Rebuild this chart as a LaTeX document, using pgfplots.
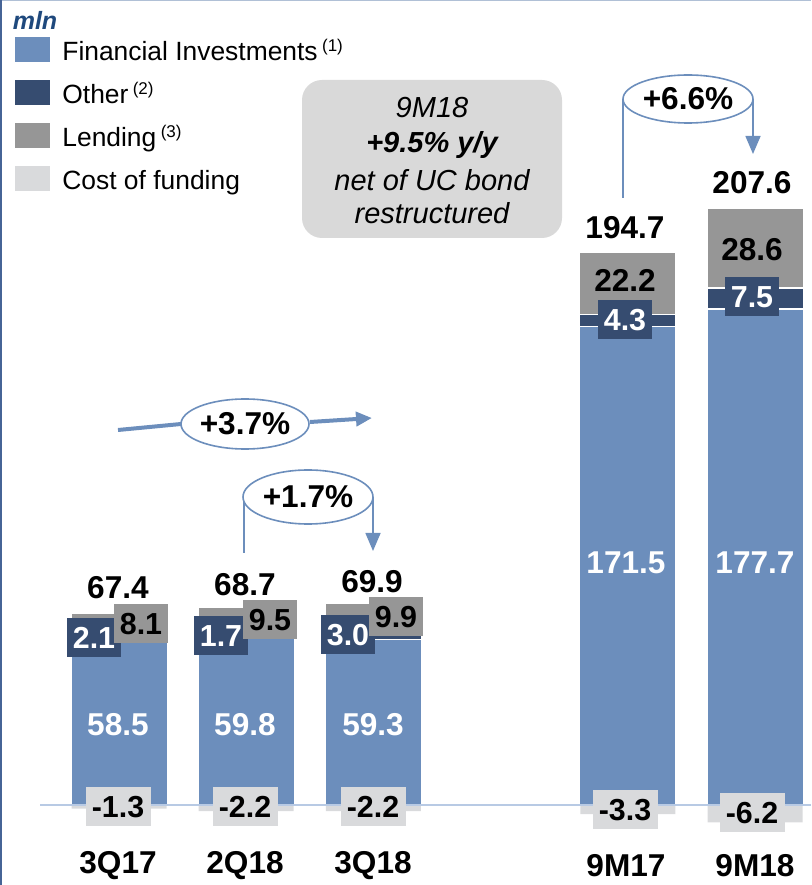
\documentclass[border=0pt]{standalone}
\usepackage{pgfplots}
\pgfplotsset{compat=1.18}
\usepackage{pgfplotstable}
\usepackage{fontspec}
\setmainfont{Liberation Sans}
\usetikzlibrary{arrows.meta}

\definecolor{finblue}{RGB}{108,142,188}
\definecolor{othnavy}{RGB}{54,76,112}
\definecolor{lendgray}{RGB}{150,150,150}
\definecolor{costgray}{RGB}{217,218,220}
\definecolor{zeroline}{RGB}{184,202,228}
\definecolor{mlnblue}{RGB}{31,73,125}
\definecolor{boxgray}{RGB}{217,217,217}

% values in mln
\pgfplotstableread{
x  fin    oth  lend  cost
0  58.5   2.1  8.1   -1.3
1  59.8   1.7  9.5   -2.2
2  59.3   3.0  9.9   -2.2
4  171.5  4.3  22.2  -3.3
5  177.7  7.5  28.6  -6.2
}\data

\newcommand\fn[1]{\,\raisebox{4.5pt}{\fontsize{8.5}{9}\selectfont(#1)}}

\pgfplotsset{
  base/.style={
    scale only axis, width=405.5pt, height=442.5pt,
    at={(0,0)}, anchor=south west,
    xmin=-0.9355, xmax=5.44, ymin=-28.67, ymax=288.5,
    hide axis, clip=false,
  },
  sq/.style={legend image code/.code={\fill[##1,draw=none] (0pt,-4.5pt) rectangle (17.5pt,8pt);}},
}

\begin{document}
\begin{tikzpicture}
\useasboundingbox (0,0) rectangle (405.5pt,442.5pt);

% cost of funding, below zero
\begin{axis}[base, ybar, bar width=47.5pt]
  \addplot[fill=costgray, draw=none] table[x=x,y=cost]{\data};
\end{axis}

\begin{axis}[base, ybar stacked, bar width=48.3pt,
    legend style={at={(rel axis cs:0.0185,0.9585)}, anchor=north west,
      draw=none, fill=none, inner sep=0pt, row sep=7pt, column sep=6pt,
      font=\fontsize{13.2}{15}\selectfont,
      nodes={inner sep=0pt, text height=10pt, text depth=3pt}},
    legend cell align=left]
  \addplot[sq, fill=finblue, draw=white, line width=0.8pt] table[x=x,y=fin]{\data};
  \addlegendentry{Financial Investments\fn{1}}
  \addplot[sq, fill=othnavy, draw=white, line width=0.8pt] table[x=x,y=oth]{\data};
  \addlegendentry{Other\fn{2}}
  \addplot[sq, fill=lendgray, draw=white, line width=0.8pt] table[x=x,y=lend]{\data};
  \addlegendentry{Lending\fn{3}}
  \addlegendimage{sq, fill=costgray}
  \addlegendentry{Cost of funding}
\end{axis}

% overlay in pixel units of the reference
\begin{scope}[x=0.5pt, y=-0.5pt, yshift=442.5pt,
    num/.style={font=\fontsize{15.8}{18}\selectfont\bfseries, inner sep=0pt},
    bx/.style={num, font=\fontsize{15.2}{18}\selectfont\bfseries, minimum width=27pt, minimum height=19.5pt},
    cb/.style={bx, fill=costgray, minimum width=32.5pt},
    ell/.style={draw=finblue, line width=0.8pt, fill=white}]
  % frame
  \draw[color={rgb,255:red,176;green,192;blue,214}, line width=1pt] (0,0.5)--(811,0.5);
  \draw[color={rgb,255:red,70;green,100;blue,150}, line width=1pt] (1,0)--(1,885);
  \node[font=\fontsize{12.5}{14}\selectfont\bfseries\itshape, text=mlnblue] at (35,20) {mln};

  % zero line
  \draw[zeroline, line width=1pt] (40,805)--(811,805);

  % financial investments
  \foreach \px/\v in {118/58.5, 245/59.8, 373/59.3}
    \node[num, text=white] at (\px,725) {\v};
  \node[num, text=white] at (626,563) {171.5};
  \node[num, text=white] at (755,563) {177.7};

  % other
  \foreach \px/\py/\v in {94/638/2.1, 221/636/1.7, 348/635/3.0, 625/320/4.3, 752/297/7.5}
    \node[bx, fill=othnavy, text=white] at (\px,\py) {\v};

  % lending
  \foreach \px/\py/\v in {141/624/8.1, 270/620/9.5, 396/617/9.9}
    \node[bx, fill=lendgray] at (\px,\py) {\v};
  \node[num] at (625,280) {22.2};
  \node[num] at (752,250) {28.6};

  % cost of funding
  \foreach \px/\py/\v in {118/807/-1.3, 245/807/-2.2, 373/807/-2.2, 625/810/-3.3, 752/813/-6.2}
    \node[cb] at (\px,\py) {\v};

  % totals
  \foreach \px/\py/\v in {118/588/67.4, 245/585/68.7, 372/582/69.9, 625/228/194.7, 752/183/207.6}
    \node[num] at (\px,\py) {\v};

  % categories
  \foreach \px/\c in {118/3Q17, 245/2Q18, 373/3Q18, 626/9M17, 755/9M18}
    \node[num] at (\px,866) {\c};

  % note box
  \fill[boxgray, rounded corners=10pt] (302,80) rectangle (562,238);
  \begin{scope}[every node/.style={font=\fontsize{14.5}{17}\selectfont\itshape}]
    \node at (432,108) {9M18};
    \node[font=\fontsize{14.5}{17}\selectfont\bfseries\itshape] at (432,145) {+9.5\% y/y};
    \node at (432,180) {net of UC bond};
    \node at (432,213) {restructured};
  \end{scope}

  % +3.7%
  \draw[finblue, line width=2pt] (118,430)--(181,424);
  \draw[finblue, line width=2pt, -{Triangle[length=8pt,width=7pt]}] (310,422)--(372,418);
  \draw[ell] (245,424) ellipse [x radius=64, y radius=25];
  \node[num] at (245,424) {+3.7\%};

  % +1.7%
  \draw[finblue, line width=0.8pt] (244,497)--(244,553);
  \draw[finblue, line width=0.8pt, -{Triangle[length=9pt,width=7.5pt]}] (373,497)--(373,551);
  \draw[ell] (308,497) ellipse [x radius=65, y radius=27];
  \node[num] at (308,497) {+1.7\%};

  % +6.6%
  \draw[finblue, line width=0.8pt] (623,99)--(623,198);
  \draw[finblue, line width=0.8pt, -{Triangle[length=9pt,width=7.5pt]}] (753,99)--(753,154);
  \draw[ell] (688,99) ellipse [x radius=65, y radius=24];
  \node[num] at (688,99) {+6.6\%};
\end{scope}
\end{tikzpicture}
\end{document}
